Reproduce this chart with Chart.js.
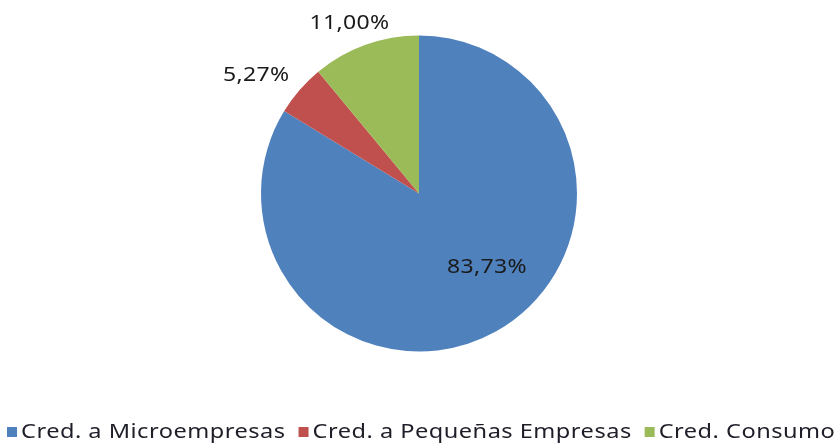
<!DOCTYPE html>
<html>
<head>
<meta charset="utf-8">
<script src="https://cdn.jsdelivr.net/npm/chart.js@4.4.1/dist/chart.umd.min.js"></script>
<style>
  html, body { margin: 0; padding: 0; background: #fff; }
  #wrap { width: 840px; height: 443px; }
</style>
</head>
<body>
<div id="wrap"><canvas id="pieChart" width="840" height="443"></canvas></div>
<script>
const categories = ['Cred. a Microempresas', 'Cred. a Pequeñas Empresas', 'Cred. Consumo'];
const shares = [83.73, 5.27, 11.00];
const valueLabels = ['83,73%', '5,27%', '11,00%'];
const colors = ['#4F81BD', '#C0504D', '#9BBB59'];

// where each value label sits, relative to pie centre, in radius units
const labelOffsets = [[0.43, 0.47], [-1.03, -0.75], [-0.44, -1.08]];

const FONT = '"Noto Sans", "Open Sans", sans-serif';

// text drawn a bit wider than normal, like the Excel export
function wideText(c, txt, x, y, sx) {
  c.save();
  c.translate(x, y);
  c.scale(sx, 1);
  c.fillText(txt, 0, 0);
  c.restore();
  return c.measureText(txt).width * sx;
}

// draw the value labels + bottom legend by hand
const excelLabels = {
  id: 'excelLabels',
  afterDraw(chart) {
    const c = chart.ctx;
    const arcs = chart.getDatasetMeta(0).data;
    c.save();
    c.fillStyle = '#1a1a1a';
    c.font = '20px ' + FONT;
    c.letterSpacing = '0.3px';
    c.textAlign = 'center';
    c.textBaseline = 'middle';
    arcs.forEach((arc, i) => {
      const r = arc.outerRadius;
      wideText(c, valueLabels[i], arc.x + labelOffsets[i][0] * r, arc.y + labelOffsets[i][1] * r, 1.15);
    });

    // legend
    c.font = '19px ' + FONT;
    c.letterSpacing = '0.4px';
    c.textAlign = 'left';
    const y = 432;
    const gap = 13, box = 10;
    let x = 7;
    categories.forEach((name, i) => {
      c.fillStyle = colors[i];
      c.fillRect(x, y - 5, box, box);
      c.fillStyle = '#1e1e28';
      const w = wideText(c, name, x + box + 4, y + 1, 1.24);
      x += box + 4 + w + gap;
    });
    c.restore();
  }
};

new Chart(document.getElementById('pieChart'), {
  type: 'pie',
  data: {
    labels: categories,
    datasets: [{
      data: shares,
      backgroundColor: colors,
      borderWidth: 0
    }]
  },
  options: {
    responsive: false,
    animation: false,
    layout: { padding: { top: 35, bottom: 91, left: 261, right: 263 } },
    plugins: {
      legend: { display: false },
      tooltip: { enabled: false }
    }
  },
  plugins: [excelLabels]
});
</script>
</body>
</html>
